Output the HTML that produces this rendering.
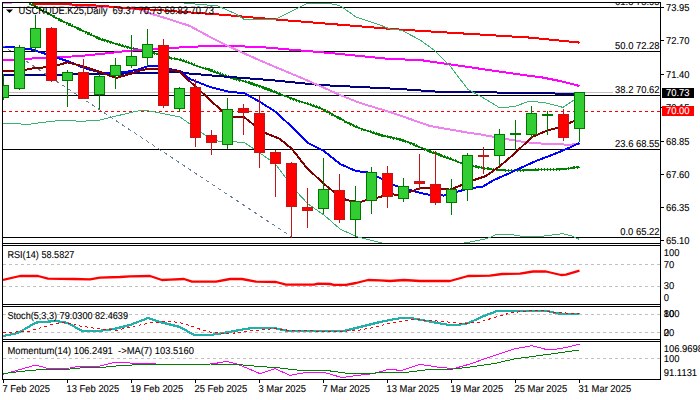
<!DOCTYPE html>
<html><head><meta charset="utf-8"><title>USCRUDE.K25 Daily</title>
<style>html,body{margin:0;padding:0;background:#fff;overflow:hidden}svg{display:block}text{font-family:"Liberation Sans",sans-serif;white-space:pre;text-rendering:geometricPrecision}</style>
</head><body>
<svg width="700" height="400" viewBox="0 0 700 400">
<rect x="0" y="0" width="700" height="400" fill="#fff"/>
<defs><clipPath id="cm"><rect x="3" y="3" width="657" height="240"/></clipPath>
<clipPath id="c1"><rect x="3" y="246" width="657" height="58"/></clipPath>
<clipPath id="c2"><rect x="3" y="307" width="657" height="32"/></clipPath>
<clipPath id="c3"><rect x="3" y="342" width="657" height="37"/></clipPath></defs>
<g clip-path="url(#cm)">
<g shape-rendering="crispEdges">
<line x1="3" y1="92.5" x2="613" y2="92.5" stroke="#c0c0c0" stroke-width="1" />
<line x1="3" y1="7.5" x2="660" y2="7.5" stroke="#000" stroke-width="1" />
<line x1="3" y1="51.5" x2="660" y2="51.5" stroke="#000" stroke-width="1" />
<line x1="3" y1="95.5" x2="660" y2="95.5" stroke="#000" stroke-width="1" />
<line x1="3" y1="149.5" x2="660" y2="149.5" stroke="#000" stroke-width="1" />
<line x1="3" y1="237.5" x2="660" y2="237.5" stroke="#000" stroke-width="1" />
<line x1="3" y1="111.5" x2="660" y2="111.5" stroke="#ff0000" stroke-width="1" stroke-dasharray="3 3"/>
</g>
<g shape-rendering="crispEdges" stroke-linejoin="round">
<polyline points="2.0,3.3 12.0,3.3" fill="none" stroke="#ee82ee" stroke-width="2" />
<polyline points="29.0,3.0 60.0,20.0 79.0,29.0 100.0,39.0 120.0,45.0 130.0,48.0 154.0,53.0 170.0,58.0 180.0,59.5 200.0,67.0 210.0,70.0 230.0,77.5 250.0,83.0 270.0,90.0 290.0,98.0 320.0,108.0 340.0,118.5 350.0,124.0 362.5,129.5 385.0,136.2 400.0,139.6 407.5,142.0 430.0,151.4 452.6,159.7 464.0,164.2 480.0,167.6 494.0,169.6 510.0,170.6 530.0,170.0 548.0,169.5 565.0,169.0 579.5,167.0" fill="none" stroke="#008000" stroke-width="1.5" />
<polyline points="29.0,3.0 60.0,20.0 79.0,29.0 100.0,39.0 120.0,45.0 130.0,48.0 154.0,53.0 170.0,58.0 180.0,59.5 200.0,67.0 210.0,70.0 230.0,77.5 250.0,83.0 270.0,90.0 290.0,98.0 320.0,108.0 340.0,118.5 350.0,124.0 362.5,129.5 385.0,136.2 400.0,139.6 407.5,142.0 430.0,151.4 452.6,159.7 464.0,164.2 480.0,167.6 494.0,169.6 510.0,170.6 530.0,170.0 548.0,169.5 565.0,169.0 579.5,167.0" fill="none" stroke="#008000" stroke-width="2.7" stroke-dasharray="1.5 1.5"/>
<polyline points="2.0,75.0 100.0,74.3 140.0,73.0 180.0,72.0 190.0,73.6 230.0,77.0 270.0,80.0 320.0,85.0 400.0,89.0 436.0,91.6 530.0,93.0 579.5,94.0" fill="none" stroke="#000080" stroke-width="2" />
<polyline points="2.0,60.0 14.0,60.0 26.0,58.8 46.0,57.8 60.0,57.2 80.0,56.0 102.5,53.8 125.0,51.2 147.5,49.2 170.0,48.0 200.0,46.4 230.0,46.0 260.0,47.0 330.0,53.0 390.0,59.0 420.0,60.0 530.0,76.0 540.0,77.0 560.0,81.0 579.5,86.0" fill="none" stroke="#ff00ff" stroke-width="2" />
<polyline points="69.0,5.2 103.0,6.8 116.0,7.4 134.0,8.8 142.0,10.0 151.0,13.7 170.0,19.5 190.0,26.0 210.0,37.0 230.0,47.0 250.0,56.0 260.0,60.5 304.0,79.0 320.0,86.0 340.0,95.0 360.0,103.0 390.0,112.0 430.0,126.0 470.0,133.0 480.0,134.4 502.5,138.4 525.0,142.2 547.5,144.0 570.0,144.7 579.5,143.8" fill="none" stroke="#ee82ee" stroke-width="2" />
<polyline points="33.0,3.6 69.0,4.4 103.0,5.8 113.0,7.0 154.0,9.8 220.0,14.6 230.0,15.4 270.0,19.0 400.0,29.6 530.0,37.6 579.5,42.6" fill="none" stroke="#ff0000" stroke-width="2" />
<polyline points="2.0,46.6 10.0,47.0 30.0,49.0 46.0,54.0 70.0,62.0 84.0,68.0 100.0,72.4 112.0,73.6 128.0,71.6 140.0,69.0 150.0,65.5 158.0,66.0 169.0,69.0 180.0,71.0 190.0,79.0 210.0,87.0 230.0,92.0 244.0,93.0 260.0,102.0 276.0,112.0 295.0,130.0 308.0,143.0 324.0,151.0 340.0,164.0 356.0,171.0 368.0,172.4 380.0,178.0 393.0,185.0 410.0,190.0 426.0,194.4 444.0,195.6 460.0,191.0 470.0,188.0 482.0,187.0 494.0,180.0 510.0,173.0 514.0,171.0 536.0,161.0 554.0,154.2 570.0,147.4 579.5,143.0" fill="none" stroke="#0000ff" stroke-width="2" />
<polyline points="2.0,71.0 19.5,71.0 35.5,67.8 51.5,67.2 67.5,62.3 83.5,66.4 100.0,72.0 116.0,78.0 130.0,74.0 140.0,70.5 150.0,68.6 158.0,68.6 169.0,70.0 179.0,70.8 186.0,78.0 196.0,87.0 222.0,111.0 232.0,117.0 244.0,117.0 254.0,125.0 264.0,132.5 280.0,139.0 292.0,149.0 306.0,167.0 324.0,184.0 334.0,192.0 346.0,200.0 360.0,202.4 366.0,200.0 380.0,197.0 390.0,194.0 398.0,195.0 410.0,192.0 420.0,188.0 436.0,188.0 450.0,189.6 462.0,185.0 474.0,180.0 486.0,176.0 500.0,166.0 514.0,154.0 530.0,139.0 532.0,137.0 546.0,131.0 560.0,127.0 574.0,121.0 579.5,119.0" fill="none" stroke="#800000" stroke-width="2" />
<polyline points="184.0,3.0 218.0,6.0 236.0,14.0 244.0,19.4 274.0,20.0 284.0,15.0 306.0,4.0 320.0,3.0 336.0,4.4 342.0,7.0 356.0,17.0 380.0,25.0 390.0,29.0 402.0,30.4 420.0,40.0 434.0,50.0 450.0,66.0 460.0,79.0 468.0,89.6 482.0,97.0 499.0,107.4 506.0,107.4 516.0,106.0 530.0,101.0 546.0,103.0 563.0,107.4 574.0,100.0 579.5,97.0" fill="none" stroke="#3cb371" stroke-width="1" />
<polyline points="2.0,123.0 28.0,124.4 46.0,122.0 64.0,120.0 80.0,121.4 100.0,120.0 112.0,117.0 136.0,111.4 144.0,110.0 160.0,113.0 180.0,117.0 190.0,124.0 200.0,132.0 207.0,136.0 218.0,141.0 244.0,142.4 254.0,149.0 270.0,160.0 276.0,165.0 286.0,178.0 296.0,191.0 308.0,204.0 324.0,215.0 340.0,229.0 356.0,236.4 380.0,242.6 400.0,247.0 440.0,247.0 467.6,242.4 487.0,238.6 497.0,234.2 507.4,234.0 520.0,236.0 528.0,236.8 541.0,236.5 553.7,234.7 562.7,233.7 571.7,236.0 579.5,239.5" fill="none" stroke="#3cb371" stroke-width="1" />
</g>
<line x1="2" y1="45.2" x2="291.5" y2="236.8" stroke="#667d99" stroke-width="1" stroke-dasharray="3.6 3.6" shape-rendering="crispEdges"/>
<g shape-rendering="crispEdges">
<rect x="3" y="74" width="1" height="26" fill="#007800"/>
<rect x="-1.5" y="85.5" width="10" height="12" fill="#32cd32" stroke="#007800" stroke-width="1"/>
<rect x="19" y="45" width="1" height="45" fill="#007800"/>
<rect x="14.5" y="47.5" width="10" height="41" fill="#32cd32" stroke="#007800" stroke-width="1"/>
<rect x="35" y="15" width="1" height="37" fill="#007800"/>
<rect x="30.5" y="28.5" width="10" height="19" fill="#32cd32" stroke="#007800" stroke-width="1"/>
<rect x="51" y="27" width="1" height="55" fill="#c01818"/>
<rect x="46.5" y="28.5" width="10" height="52" fill="#ff0000" stroke="#c01818" stroke-width="1"/>
<rect x="67" y="70" width="1" height="37" fill="#007800"/>
<rect x="62.5" y="72.5" width="10" height="8" fill="#32cd32" stroke="#007800" stroke-width="1"/>
<rect x="83" y="59" width="1" height="40" fill="#c01818"/>
<rect x="78.5" y="72.5" width="10" height="26" fill="#ff0000" stroke="#c01818" stroke-width="1"/>
<rect x="99" y="74" width="1" height="35" fill="#007800"/>
<rect x="94.5" y="76.5" width="10" height="18" fill="#32cd32" stroke="#007800" stroke-width="1"/>
<rect x="115" y="58" width="1" height="31" fill="#007800"/>
<rect x="110.5" y="65.5" width="10" height="10" fill="#32cd32" stroke="#007800" stroke-width="1"/>
<rect x="131" y="35" width="1" height="33" fill="#007800"/>
<rect x="126.5" y="56.5" width="10" height="9" fill="#32cd32" stroke="#007800" stroke-width="1"/>
<rect x="147" y="29" width="1" height="37" fill="#007800"/>
<rect x="142.5" y="44.5" width="10" height="13" fill="#32cd32" stroke="#007800" stroke-width="1"/>
<rect x="163" y="39" width="1" height="69" fill="#c01818"/>
<rect x="158.5" y="45.5" width="10" height="60" fill="#ff0000" stroke="#c01818" stroke-width="1"/>
<rect x="179" y="87" width="1" height="25" fill="#007800"/>
<rect x="174.5" y="88.5" width="10" height="20" fill="#32cd32" stroke="#007800" stroke-width="1"/>
<rect x="195" y="79" width="1" height="68" fill="#c01818"/>
<rect x="190.5" y="87.5" width="10" height="50" fill="#ff0000" stroke="#c01818" stroke-width="1"/>
<rect x="211" y="130" width="1" height="25" fill="#c01818"/>
<rect x="206.5" y="135.5" width="10" height="7" fill="#ff0000" stroke="#c01818" stroke-width="1"/>
<rect x="227" y="98" width="1" height="51" fill="#007800"/>
<rect x="222.5" y="109.5" width="10" height="35" fill="#32cd32" stroke="#007800" stroke-width="1"/>
<rect x="243" y="104" width="1" height="31" fill="#c01818"/>
<rect x="238.5" y="108.5" width="10" height="4" fill="#ff0000" stroke="#c01818" stroke-width="1"/>
<rect x="259" y="96" width="1" height="72" fill="#c01818"/>
<rect x="254.5" y="113.5" width="10" height="39" fill="#ff0000" stroke="#c01818" stroke-width="1"/>
<rect x="275" y="150" width="1" height="47" fill="#c01818"/>
<rect x="270.5" y="152.5" width="10" height="11" fill="#ff0000" stroke="#c01818" stroke-width="1"/>
<rect x="291" y="162" width="1" height="76" fill="#c01818"/>
<rect x="286.5" y="163.5" width="10" height="43" fill="#ff0000" stroke="#c01818" stroke-width="1"/>
<rect x="307" y="188" width="1" height="40" fill="#c01818"/>
<rect x="302.5" y="207.5" width="10" height="3" fill="#ff0000" stroke="#c01818" stroke-width="1"/>
<rect x="323" y="158" width="1" height="56" fill="#007800"/>
<rect x="318.5" y="189.5" width="10" height="19" fill="#32cd32" stroke="#007800" stroke-width="1"/>
<rect x="339" y="174" width="1" height="49" fill="#c01818"/>
<rect x="334.5" y="190.5" width="10" height="29" fill="#ff0000" stroke="#c01818" stroke-width="1"/>
<rect x="355" y="186" width="1" height="51" fill="#007800"/>
<rect x="350.5" y="201.5" width="10" height="18" fill="#32cd32" stroke="#007800" stroke-width="1"/>
<rect x="371" y="167" width="1" height="47" fill="#007800"/>
<rect x="366.5" y="172.5" width="10" height="28" fill="#32cd32" stroke="#007800" stroke-width="1"/>
<rect x="387" y="166" width="1" height="42" fill="#c01818"/>
<rect x="382.5" y="173.5" width="10" height="23" fill="#ff0000" stroke="#c01818" stroke-width="1"/>
<rect x="403" y="178" width="1" height="24" fill="#007800"/>
<rect x="398.5" y="186.5" width="10" height="12" fill="#32cd32" stroke="#007800" stroke-width="1"/>
<rect x="419" y="154" width="1" height="36" fill="#c01818"/>
<rect x="414.5" y="181.5" width="10" height="2" fill="#ff0000" stroke="#c01818" stroke-width="1"/>
<rect x="435" y="151" width="1" height="54" fill="#c01818"/>
<rect x="430.5" y="184.5" width="10" height="18" fill="#ff0000" stroke="#c01818" stroke-width="1"/>
<rect x="451" y="179" width="1" height="36" fill="#007800"/>
<rect x="446.5" y="189.5" width="10" height="13" fill="#32cd32" stroke="#007800" stroke-width="1"/>
<rect x="467" y="153" width="1" height="48" fill="#007800"/>
<rect x="462.5" y="155.5" width="10" height="34" fill="#32cd32" stroke="#007800" stroke-width="1"/>
<rect x="483" y="147" width="1" height="27" fill="#c01818"/>
<rect x="478.5" y="155.5" width="10" height="1" fill="#ff0000" stroke="#c01818" stroke-width="1"/>
<rect x="499" y="129" width="1" height="37" fill="#007800"/>
<rect x="494.5" y="134.5" width="10" height="21" fill="#32cd32" stroke="#007800" stroke-width="1"/>
<rect x="515" y="120" width="1" height="30" fill="#007800"/>
<rect x="510.5" y="133.5" width="10" height="1" fill="#32cd32" stroke="#007800" stroke-width="1"/>
<rect x="531" y="106" width="1" height="32" fill="#007800"/>
<rect x="526.5" y="113.5" width="10" height="21" fill="#32cd32" stroke="#007800" stroke-width="1"/>
<rect x="547" y="111" width="1" height="24" fill="#007800"/>
<rect x="542.5" y="114.5" width="10" height="1" fill="#32cd32" stroke="#007800" stroke-width="1"/>
<rect x="563" y="109" width="1" height="32" fill="#c01818"/>
<rect x="558.5" y="114.5" width="10" height="23" fill="#ff0000" stroke="#c01818" stroke-width="1"/>
<rect x="579" y="92" width="1" height="50" fill="#007800"/>
<rect x="574.5" y="92.5" width="10" height="36" fill="#32cd32" stroke="#007800" stroke-width="1"/>
</g>
</g>
<text transform="translate(659.5,5.00) scale(0.9400,1)" font-size="10.00" text-anchor="end" fill="#000" stroke="#000" stroke-width="0.1">61.8 73.95</text>
<text transform="translate(659.5,49.00) scale(0.9400,1)" font-size="10.00" text-anchor="end" fill="#000" stroke="#000" stroke-width="0.1">50.0 72.28</text>
<text transform="translate(659.5,93.00) scale(0.9400,1)" font-size="10.00" text-anchor="end" fill="#000" stroke="#000" stroke-width="0.1">38.2 70.62</text>
<text transform="translate(659.5,147.00) scale(0.9400,1)" font-size="10.00" text-anchor="end" fill="#000" stroke="#000" stroke-width="0.1">23.6 68.55</text>
<text transform="translate(659.5,235.00) scale(0.9400,1)" font-size="10.00" text-anchor="end" fill="#000" stroke="#000" stroke-width="0.1">0.0 65.22</text>
<rect x="600" y="0" width="60" height="2" fill="#fff"/>
<path d="M6 9.5 L13 9.5 L9.5 13 Z" fill="#000"/>
<text transform="translate(18.5,14.00) scale(0.9400,1)" font-size="10.64" text-anchor="start" fill="#000" stroke="#000" stroke-width="0.1" textLength="207.98" lengthAdjust="spacingAndGlyphs">USCRUDE.K25,Daily  69.37 70.73 68.83 70.73</text>
<g shape-rendering="crispEdges">
<line x1="3" y1="264.5" x2="660" y2="264.5" stroke="#c0c0c0" stroke-width="1" stroke-dasharray="3 3"/>
<line x1="3" y1="286.5" x2="660" y2="286.5" stroke="#c0c0c0" stroke-width="1" stroke-dasharray="3 3"/>
<line x1="3" y1="314.5" x2="660" y2="314.5" stroke="#c0c0c0" stroke-width="1" stroke-dasharray="3 3"/>
<line x1="3" y1="332.5" x2="660" y2="332.5" stroke="#c0c0c0" stroke-width="1" stroke-dasharray="3 3"/>
<line x1="3" y1="358.5" x2="660" y2="358.5" stroke="#c0c0c0" stroke-width="1" stroke-dasharray="3 3"/>
</g>
<g shape-rendering="crispEdges" stroke-linejoin="round">
<polyline points="3.0,280.0 20.0,276.0 38.0,276.0 48.0,278.6 74.0,279.0 90.0,279.4 100.0,277.6 120.0,277.0 130.0,276.4 150.0,276.0 162.0,280.0 170.0,279.6 184.0,279.0 192.0,281.6 216.0,281.6 230.0,279.0 242.0,279.0 256.0,281.6 276.0,282.0 286.0,284.6 314.0,284.6 318.0,283.6 330.0,284.0 334.0,284.8 346.0,284.8 356.0,283.0 368.0,280.0 380.0,280.4 390.0,281.0 404.0,280.0 420.0,281.0 450.0,281.0 468.0,276.0 490.0,275.6 502.0,274.0 520.0,273.7 533.0,271.5 546.0,271.5 561.0,275.0 566.0,274.6 579.5,270.7" fill="none" stroke="#ff0000" stroke-width="2.3" clip-path="url(#c1)" shape-rendering="auto"/>
<polyline points="3.0,336.0 18.0,333.0 36.0,322.6 56.0,321.0 68.0,323.0 82.0,331.0 98.0,331.0 114.0,329.0 130.0,325.0 148.0,318.0 160.0,322.0 180.0,327.0 194.0,335.0 210.0,335.0 220.0,333.6 242.0,329.6 252.0,328.0 274.0,328.0 286.0,330.6 344.0,331.0 360.0,327.0 380.0,322.0 390.0,320.0 400.0,318.2 412.0,318.2 430.0,321.6 448.0,324.8 458.0,324.8 468.0,323.2 484.0,316.0 498.0,310.6 546.0,310.8 558.6,313.6 579.5,314.0" fill="none" stroke="#20b2aa" stroke-width="2.2" clip-path="url(#c2)"/>
<polyline points="3.0,333.0 30.0,331.0 50.0,325.0 66.0,322.4 80.0,326.0 100.0,329.0 116.0,330.4 130.0,327.0 150.0,323.0 170.0,321.2 184.0,323.5 198.0,328.6 210.0,332.0 226.0,334.0 238.0,332.6 254.0,330.0 260.0,330.0 274.0,328.6 290.0,330.4 340.0,331.6 360.0,330.0 376.0,327.0 390.0,323.0 410.0,319.6 430.0,320.4 448.0,322.0 464.0,323.6 480.0,322.0 496.0,317.0 510.0,313.0 530.0,310.6 546.0,311.0 553.0,312.4 579.5,313.6" fill="none" stroke="#ff0000" stroke-width="1" stroke-dasharray="3 3" clip-path="url(#c2)"/>
<polyline points="3.0,374.4 36.0,365.0 48.0,368.6 70.0,368.0 80.0,366.0 100.0,366.0 114.0,362.4 130.0,363.0 150.0,363.0 160.0,364.8 170.0,364.0 190.0,365.0 210.0,364.0 214.0,363.6 227.0,361.4 238.0,364.4 260.0,373.6 275.0,368.6 290.0,375.4 306.0,372.4 324.0,372.4 340.0,377.0 346.0,377.0 356.0,375.6 374.0,373.6 388.0,369.4 402.0,370.4 420.0,364.4 440.0,367.4 454.0,368.6 470.0,364.0 490.0,357.0 514.0,349.0 531.6,345.7 545.7,349.3 553.4,349.6 566.3,347.5 579.5,344.2" fill="none" stroke="#ff00ff" stroke-width="1" clip-path="url(#c3)"/>
<polyline points="3.0,373.6 30.0,370.4 50.0,369.0 70.0,369.0 80.0,368.0 100.0,367.6 120.0,365.6 140.0,364.6 160.0,365.0 170.0,364.0 190.0,365.0 210.0,364.0 238.0,364.6 254.0,366.0 280.0,368.0 300.0,370.4 326.0,370.4 348.0,373.4 368.0,374.0 380.0,372.4 406.0,372.4 430.0,369.4 454.0,369.0 470.0,367.0 494.0,363.6 514.0,359.0 545.7,354.7 579.5,350.0" fill="none" stroke="#008000" stroke-width="1" clip-path="url(#c3)"/>
</g>
<text transform="translate(7.4,258.00) scale(0.9400,1)" font-size="10.00" text-anchor="start" fill="#000" stroke="#000" stroke-width="0.1" textLength="71.28" lengthAdjust="spacingAndGlyphs">RSI(14) 58.5827</text>
<text transform="translate(7.4,319.00) scale(0.9400,1)" font-size="10.00" text-anchor="start" fill="#000" stroke="#000" stroke-width="0.1" textLength="128.30" lengthAdjust="spacingAndGlyphs">Stoch(5,3,3) 79.0300 82.4639</text>
<text transform="translate(7.4,354.00) scale(0.9400,1)" font-size="10.00" text-anchor="start" fill="#000" stroke="#000" stroke-width="0.1" textLength="198.51" lengthAdjust="spacingAndGlyphs">Momentum(14) 106.2491  -&gt;MA(7) 103.5160</text>
<g shape-rendering="crispEdges">
<line x1="2" y1="2.5" x2="661" y2="2.5" stroke="#000" stroke-width="1" />
<line x1="2" y1="243.5" x2="661" y2="243.5" stroke="#000" stroke-width="1" />
<line x1="2" y1="245.5" x2="661" y2="245.5" stroke="#000" stroke-width="1" />
<line x1="2" y1="304.5" x2="661" y2="304.5" stroke="#000" stroke-width="1" />
<line x1="2" y1="306.5" x2="661" y2="306.5" stroke="#000" stroke-width="1" />
<line x1="2" y1="339.5" x2="661" y2="339.5" stroke="#000" stroke-width="1" />
<line x1="2" y1="341.5" x2="661" y2="341.5" stroke="#000" stroke-width="1" />
<line x1="2" y1="379.5" x2="661" y2="379.5" stroke="#000" stroke-width="1" />
<line x1="2.5" y1="2" x2="2.5" y2="380" stroke="#000" stroke-width="1" />
<line x1="660.5" y1="2" x2="660.5" y2="380" stroke="#000" stroke-width="1" />
<line x1="661" y1="7.5" x2="664" y2="7.5" stroke="#000" stroke-width="1" />
<line x1="661" y1="40.5" x2="664" y2="40.5" stroke="#000" stroke-width="1" />
<line x1="661" y1="74.5" x2="664" y2="74.5" stroke="#000" stroke-width="1" />
<line x1="661" y1="107.5" x2="664" y2="107.5" stroke="#000" stroke-width="1" />
<line x1="661" y1="141.5" x2="664" y2="141.5" stroke="#000" stroke-width="1" />
<line x1="661" y1="174.5" x2="664" y2="174.5" stroke="#000" stroke-width="1" />
<line x1="661" y1="207.5" x2="664" y2="207.5" stroke="#000" stroke-width="1" />
<line x1="661" y1="240.5" x2="664" y2="240.5" stroke="#000" stroke-width="1" />
<line x1="3.5" y1="380" x2="3.5" y2="383" stroke="#000" stroke-width="1" />
<line x1="67.5" y1="380" x2="67.5" y2="383" stroke="#000" stroke-width="1" />
<line x1="131.5" y1="380" x2="131.5" y2="383" stroke="#000" stroke-width="1" />
<line x1="195.5" y1="380" x2="195.5" y2="383" stroke="#000" stroke-width="1" />
<line x1="259.5" y1="380" x2="259.5" y2="383" stroke="#000" stroke-width="1" />
<line x1="323.5" y1="380" x2="323.5" y2="383" stroke="#000" stroke-width="1" />
<line x1="387.5" y1="380" x2="387.5" y2="383" stroke="#000" stroke-width="1" />
<line x1="451.5" y1="380" x2="451.5" y2="383" stroke="#000" stroke-width="1" />
<line x1="515.5" y1="380" x2="515.5" y2="383" stroke="#000" stroke-width="1" />
<line x1="579.5" y1="380" x2="579.5" y2="383" stroke="#000" stroke-width="1" />
</g>
<text transform="translate(666,11.00) scale(0.9400,1)" font-size="10.00" text-anchor="start" fill="#000" stroke="#000" stroke-width="0.1">73.95</text>
<text transform="translate(666,44.00) scale(0.9400,1)" font-size="10.00" text-anchor="start" fill="#000" stroke="#000" stroke-width="0.1">72.70</text>
<text transform="translate(666,78.00) scale(0.9400,1)" font-size="10.00" text-anchor="start" fill="#000" stroke="#000" stroke-width="0.1">71.40</text>
<text transform="translate(666,111.00) scale(0.9400,1)" font-size="10.00" text-anchor="start" fill="#000" stroke="#000" stroke-width="0.1">70.15</text>
<text transform="translate(666,145.00) scale(0.9400,1)" font-size="10.00" text-anchor="start" fill="#000" stroke="#000" stroke-width="0.1">68.85</text>
<text transform="translate(666,178.00) scale(0.9400,1)" font-size="10.00" text-anchor="start" fill="#000" stroke="#000" stroke-width="0.1">67.60</text>
<text transform="translate(666,211.00) scale(0.9400,1)" font-size="10.00" text-anchor="start" fill="#000" stroke="#000" stroke-width="0.1">66.35</text>
<text transform="translate(666,244.00) scale(0.9400,1)" font-size="10.00" text-anchor="start" fill="#000" stroke="#000" stroke-width="0.1">65.10</text>
<rect x="662" y="88" width="32" height="10" fill="#000" shape-rendering="crispEdges"/>
<text transform="translate(666,96.00) scale(0.9400,1)" font-size="10.00" text-anchor="start" fill="#fff" stroke="#fff" stroke-width="0.1">70.73</text>
<rect x="662" y="106" width="32" height="10" fill="#ff0000" shape-rendering="crispEdges"/>
<text transform="translate(666,114.00) scale(0.9400,1)" font-size="10.00" text-anchor="start" fill="#fff" stroke="#fff" stroke-width="0.1">70.00</text>
<text transform="translate(663.8,256.00) scale(0.9400,1)" font-size="10.00" text-anchor="start" fill="#000" stroke="#000" stroke-width="0.1">100</text>
<text transform="translate(663.8,268.00) scale(0.9400,1)" font-size="10.00" text-anchor="start" fill="#000" stroke="#000" stroke-width="0.1">70</text>
<text transform="translate(663.8,289.00) scale(0.9400,1)" font-size="10.00" text-anchor="start" fill="#000" stroke="#000" stroke-width="0.1">30</text>
<text transform="translate(663.8,301.00) scale(0.9400,1)" font-size="10.00" text-anchor="start" fill="#000" stroke="#000" stroke-width="0.1">0</text>
<text transform="translate(663.8,317.00) scale(0.9400,1)" font-size="10.00" text-anchor="start" fill="#000" stroke="#000" stroke-width="0.1">100</text>
<text transform="translate(663.8,317.00) scale(0.9400,1)" font-size="10.00" text-anchor="start" fill="#000" stroke="#000" stroke-width="0.1">80</text>
<text transform="translate(663.8,336.00) scale(0.9400,1)" font-size="10.00" text-anchor="start" fill="#000" stroke="#000" stroke-width="0.1">20</text>
<text transform="translate(663.8,336.00) scale(0.9400,1)" font-size="10.00" text-anchor="start" fill="#000" stroke="#000" stroke-width="0.1">0</text>
<text transform="translate(663.8,352.00) scale(0.9400,1)" font-size="10.00" text-anchor="start" fill="#000" stroke="#000" stroke-width="0.1">106.9698</text>
<text transform="translate(663.8,362.00) scale(0.9400,1)" font-size="10.00" text-anchor="start" fill="#000" stroke="#000" stroke-width="0.1">100</text>
<text transform="translate(663.8,376.00) scale(0.9400,1)" font-size="10.00" text-anchor="start" fill="#000" stroke="#000" stroke-width="0.1">91.1131</text>
<text transform="translate(2.5,392.00) scale(0.9400,1)" font-size="10.00" text-anchor="start" fill="#000" stroke="#000" stroke-width="0.1">7 Feb 2025</text>
<text transform="translate(66.5,392.00) scale(0.9400,1)" font-size="10.00" text-anchor="start" fill="#000" stroke="#000" stroke-width="0.1">13 Feb 2025</text>
<text transform="translate(130.5,392.00) scale(0.9400,1)" font-size="10.00" text-anchor="start" fill="#000" stroke="#000" stroke-width="0.1">19 Feb 2025</text>
<text transform="translate(194.5,392.00) scale(0.9400,1)" font-size="10.00" text-anchor="start" fill="#000" stroke="#000" stroke-width="0.1">25 Feb 2025</text>
<text transform="translate(258.5,392.00) scale(0.9400,1)" font-size="10.00" text-anchor="start" fill="#000" stroke="#000" stroke-width="0.1">3 Mar 2025</text>
<text transform="translate(322.5,392.00) scale(0.9400,1)" font-size="10.00" text-anchor="start" fill="#000" stroke="#000" stroke-width="0.1">7 Mar 2025</text>
<text transform="translate(386.5,392.00) scale(0.9400,1)" font-size="10.00" text-anchor="start" fill="#000" stroke="#000" stroke-width="0.1">13 Mar 2025</text>
<text transform="translate(450.5,392.00) scale(0.9400,1)" font-size="10.00" text-anchor="start" fill="#000" stroke="#000" stroke-width="0.1">19 Mar 2025</text>
<text transform="translate(514.5,392.00) scale(0.9400,1)" font-size="10.00" text-anchor="start" fill="#000" stroke="#000" stroke-width="0.1">25 Mar 2025</text>
<text transform="translate(578.5,392.00) scale(0.9400,1)" font-size="10.00" text-anchor="start" fill="#000" stroke="#000" stroke-width="0.1">31 Mar 2025</text>
</svg></body></html>
